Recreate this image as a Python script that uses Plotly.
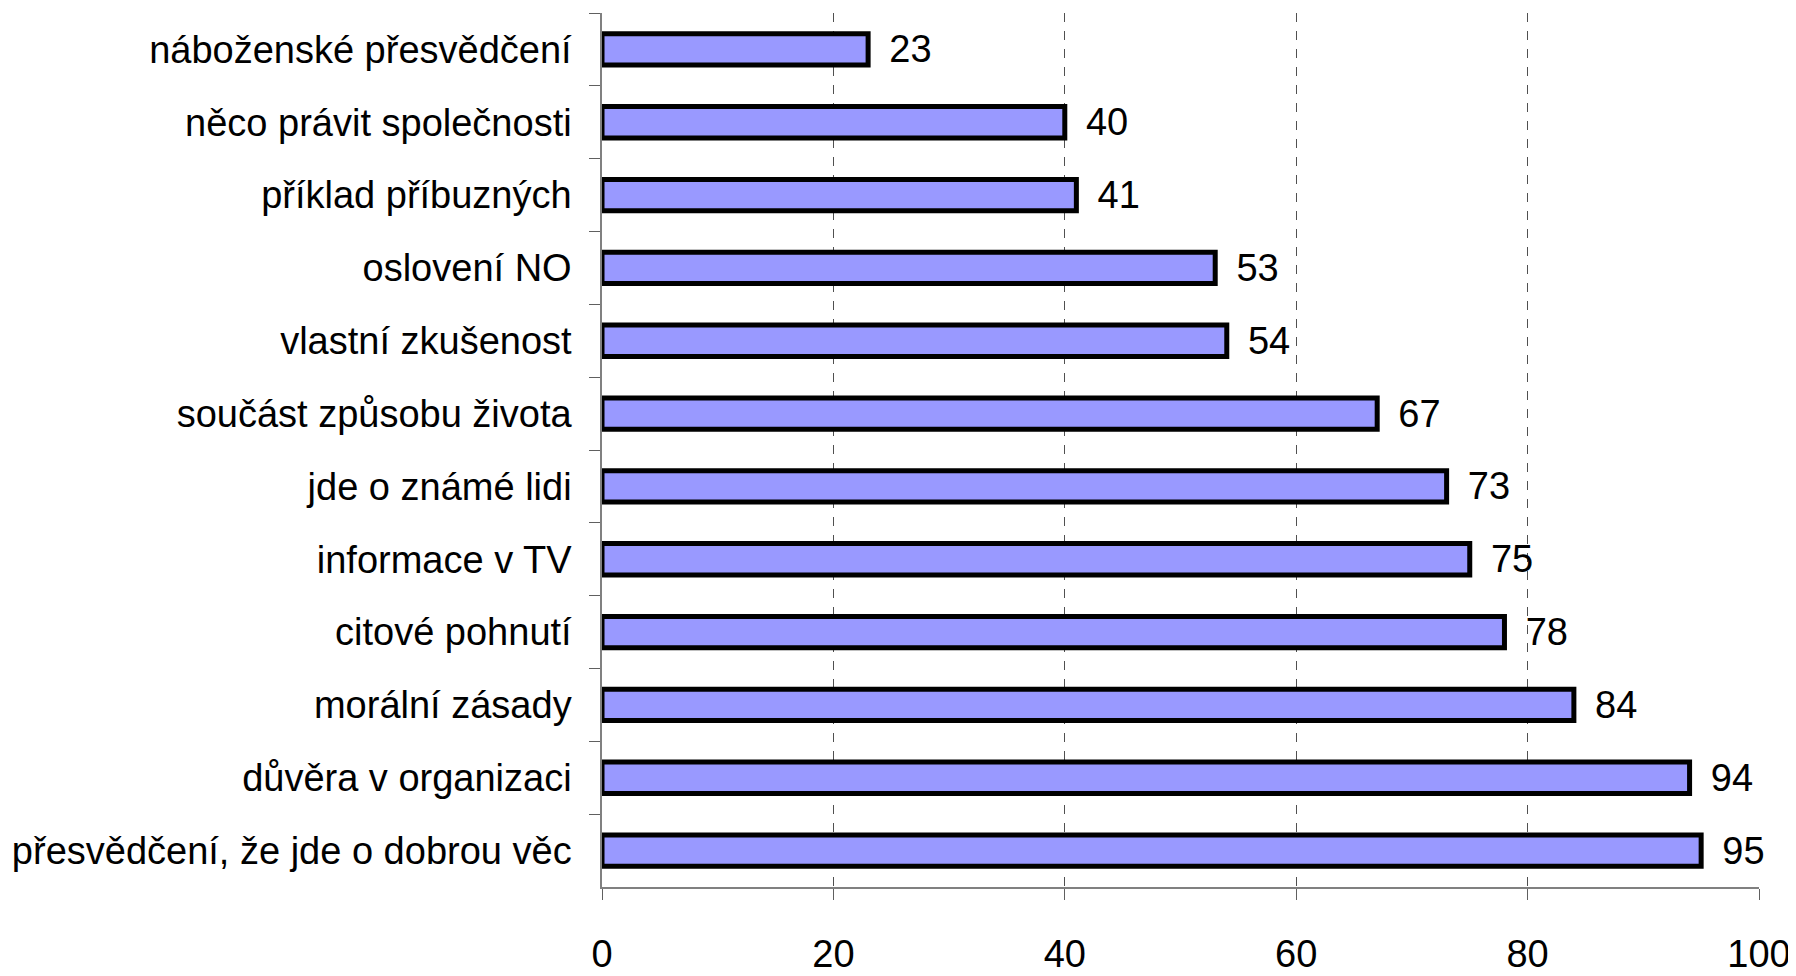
import plotly.graph_objects as go

categories = [
    "náboženské přesvědčení",
    "něco právit společnosti",
    "příklad příbuzných",
    "oslovení NO",
    "vlastní zkušenost",
    "součást způsobu života",
    "jde o známé lidi",
    "informace v TV",
    "citové pohnutí",
    "morální zásady",
    "důvěra v organizaci",
    "přesvědčení, že jde o dobrou věc",
]
values = [23, 40, 41, 53, 54, 67, 73, 75, 78, 84, 94, 95]
x_ticks = [0, 20, 40, 60, 80, 100]

fig = go.Figure(
    go.Bar(
        x = values,
        y = categories,
        orientation = "h",
        width = 0.43,
        marker = dict(color = "#9999FF", line = dict(color = "black", width = 5)),
        text = values,
        texttemplate = " \u2009%{x}",
        textposition = "outside",
        constraintext = "none",
        textfont = dict(size = 38, color = "black"),
        cliponaxis = False,
    )
)

# page body has an 8px margin, so the figure is a bit smaller than the window
fig.update_layout(
    width = 1788,
    height = 968,
    margin = dict(l = 594, r = 37, t = 5, b = 89),
    plot_bgcolor = "white",
    paper_bgcolor = "white",
    font = dict(family = "Liberation Sans, Arial, sans-serif", size = 38, color = "black"),
    showlegend = False,
)

fig.update_xaxes(
    range = [0, 100],
    tickvals = x_ticks,
    showgrid = True,
    gridcolor = "#505050",
    griddash = "dash",
    gridwidth = 1,
    showline = True,
    linecolor = "#808080",
    linewidth = 1.5,
    ticks = "outside",
    ticklen = 11,
    tickcolor = "#606060",
    ticklabelstandoff = 22,
    zeroline = False,
    automargin = False,
)

fig.update_yaxes(
    autorange = "reversed",
    showline = True,
    linecolor = "#808080",
    linewidth = 1.5,
    ticks = "outside",
    tickson = "boundaries",
    ticklen = 11,
    tickcolor = "#606060",
    ticklabelstandoff = 21,
    showgrid = False,
    automargin = False,
)

fig.write_html("out.html")
